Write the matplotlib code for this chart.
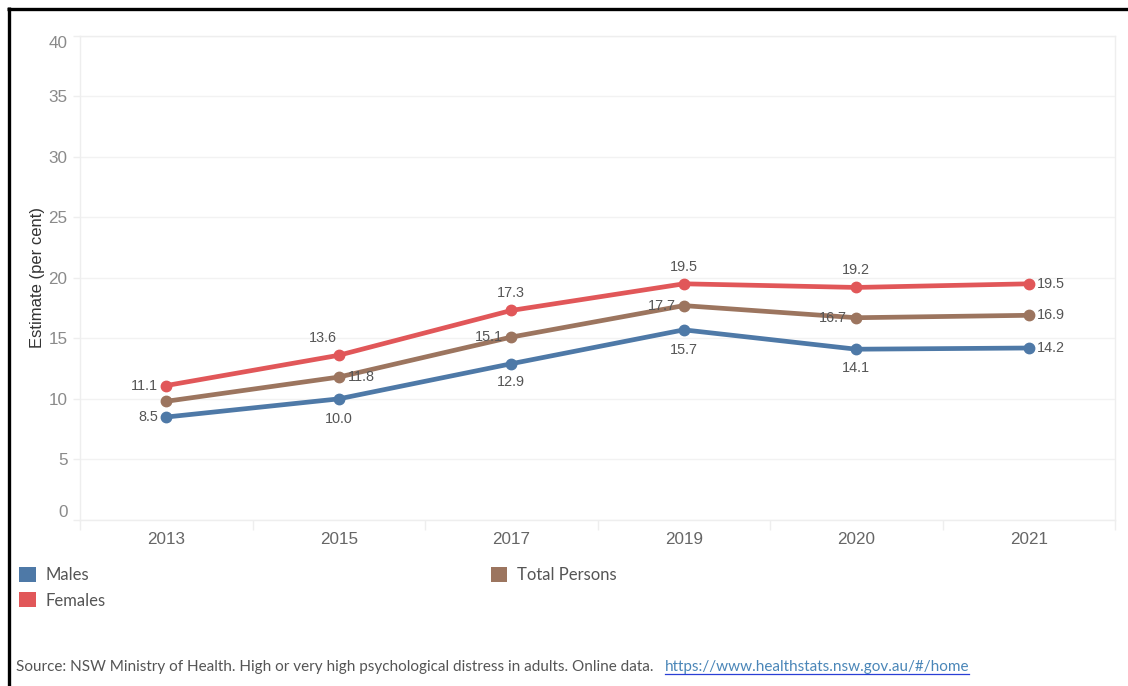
import matplotlib
matplotlib.use("Agg")
import matplotlib.pyplot as plt
from matplotlib.lines import Line2D
from matplotlib.patches import Patch

# ---- data ----
years = ["2013", "2015", "2017", "2019", "2020", "2021"]
males = [8.5, 10.0, 12.9, 15.7, 14.1, 14.2]
females = [11.1, 13.6, 17.3, 19.5, 19.2, 19.5]
total = [9.8, 11.8, 15.1, 17.7, 16.7, 16.9]
yticks = [0, 5, 10, 15, 20, 25, 30, 35, 40]

# label placement per point: (dx px, dy px, ha, va) or None
males_lab = [(-8, 0, "right", "center"), (0, -20, "center", "center"), (0, -18, "center", "center"),
             (0, -20, "center", "center"), (0, -19, "center", "center"), (8, 0, "left", "center")]
females_lab = [(-8, 0, "right", "center"), (-16, 17, "center", "center"), (0, 17, "center", "center"),
               (0, 17, "center", "center"), (0, 17, "center", "center"), (8, 0, "left", "center")]
total_lab = [None, (9, 0, "left", "center"), (-8, 0, "right", "center"),
             (-8, 0, "right", "center"), (-9, 0, "right", "center"), (8, 0, "left", "center")]

C_M, C_F, C_T = "#4e79a7", "#e15759", "#9c755f"

W, H = 1128, 686
fig = plt.figure(figsize=(W / 100, H / 100), dpi=100)
fig.patch.set_facecolor("white")

def fx(px):
    return px / W

def fy(py):
    return 1 - py / H

ax = fig.add_axes([fx(80), fy(520), fx(1115) - fx(80), fy(35.5) - fy(520)])
x = list(range(len(years)))

for vals, col, labs in [(total, C_T, total_lab), (males, C_M, males_lab), (females, C_F, females_lab)]:
    ax.plot(x, vals, color=col, lw=3.4, marker="o", ms=7.5, solid_capstyle="round", zorder=3)
    for xi, v, lab in zip(x, vals, labs):
        if lab is None:
            continue
        dx, dy, ha, va = lab
        ax.annotate(f"{v:.1f}", (xi, v), xytext=(dx, dy), textcoords="offset pixels",
                    ha=ha, va=va, fontsize=10.4, color="#555555",
                    family="Liberation Sans", zorder=4)

ax.set_xlim(-0.5, len(years) - 0.5)
ax.set_ylim(0, 40)
ax.set_yticks(yticks)
ax.set_yticklabels([str(t) for t in yticks])
ax.set_xticks(x)
ax.set_xticklabels(years)
ax.set_xticks([i - 0.5 for i in range(len(years) + 1)], minor=True)

ax.tick_params(axis="y", length=5, width=1, color="#eeeeee", pad=4,
               labelsize=12.3, labelcolor="#8a8a8a")
ax.tick_params(axis="x", which="major", length=0, pad=9,
               labelsize=12.3, labelcolor="#666666")
ax.tick_params(axis="x", which="minor", length=7, width=1, color="#eeeeee")
for lbl in ax.get_yticklabels() + ax.get_xticklabels():
    lbl.set_family("Liberation Sans")
ylabels = ax.get_yticklabels()
ylabels[0].set_va("bottom")
ylabels[-1].set_va("top")

ax.grid(axis="y", color="#f2f2f2", lw=1)
ax.set_axisbelow(True)
for s in ax.spines.values():
    s.set_color("#eeeeee")
    s.set_linewidth(1)

ax.set_ylabel("Estimate (per cent)", fontsize=12, color="#333333", family="Liberation Sans")
ax.yaxis.set_label_coords((45 - 80) / 1035, 0.5)

# legend
handles = [Patch(facecolor=C_M, edgecolor="none", label="Males"),
           Patch(facecolor=C_F, edgecolor="none", label="Females"),
           Patch(facecolor=C_T, edgecolor="none", label="Total Persons")]
leg = fig.legend(handles=handles, ncol=2, loc="upper left",
                 bbox_to_anchor=(fx(14), fy(562)), frameon=False,
                 prop={"family": "Lato", "size": 12},
                 handlelength=1.0, handleheight=1.0, handletextpad=0.6,
                 columnspacing=23.1, labelspacing=0.55, borderaxespad=0, borderpad=0.3)
for t in leg.get_texts():
    t.set_color("#555555")

# source text
src = fig.text(fx(16), fy(671), "Source: NSW Ministry of Health. High or very high psychological distress in adults. Online data.",
               fontsize=11, family="Lato", color="#555555", va="baseline", ha="left")
url = fig.text(fx(665), fy(671), "https://www.healthstats.nsw.gov.au/#/home",
               fontsize=11, family="Lato", color="#4a86b8", va="baseline", ha="left")
fig.canvas.draw()
bb = url.get_window_extent(renderer=fig.canvas.get_renderer())
fig.add_artist(Line2D([bb.x0 / W, bb.x1 / W], [fy(673.5), fy(673.5)],
                      transform=fig.transFigure, color="#2a3fd6", lw=0.9))

# outer border (top and left)
fig.add_artist(Line2D([fx(7), fx(1128)], [fy(8.5), fy(8.5)], transform=fig.transFigure,
                      color="black", lw=2.4, solid_capstyle="butt"))
fig.add_artist(Line2D([fx(8.5), fx(8.5)], [fy(7), fy(686)], transform=fig.transFigure,
                      color="black", lw=2.4, solid_capstyle="butt"))

fig.savefig("out.png", dpi=100, facecolor="white")
